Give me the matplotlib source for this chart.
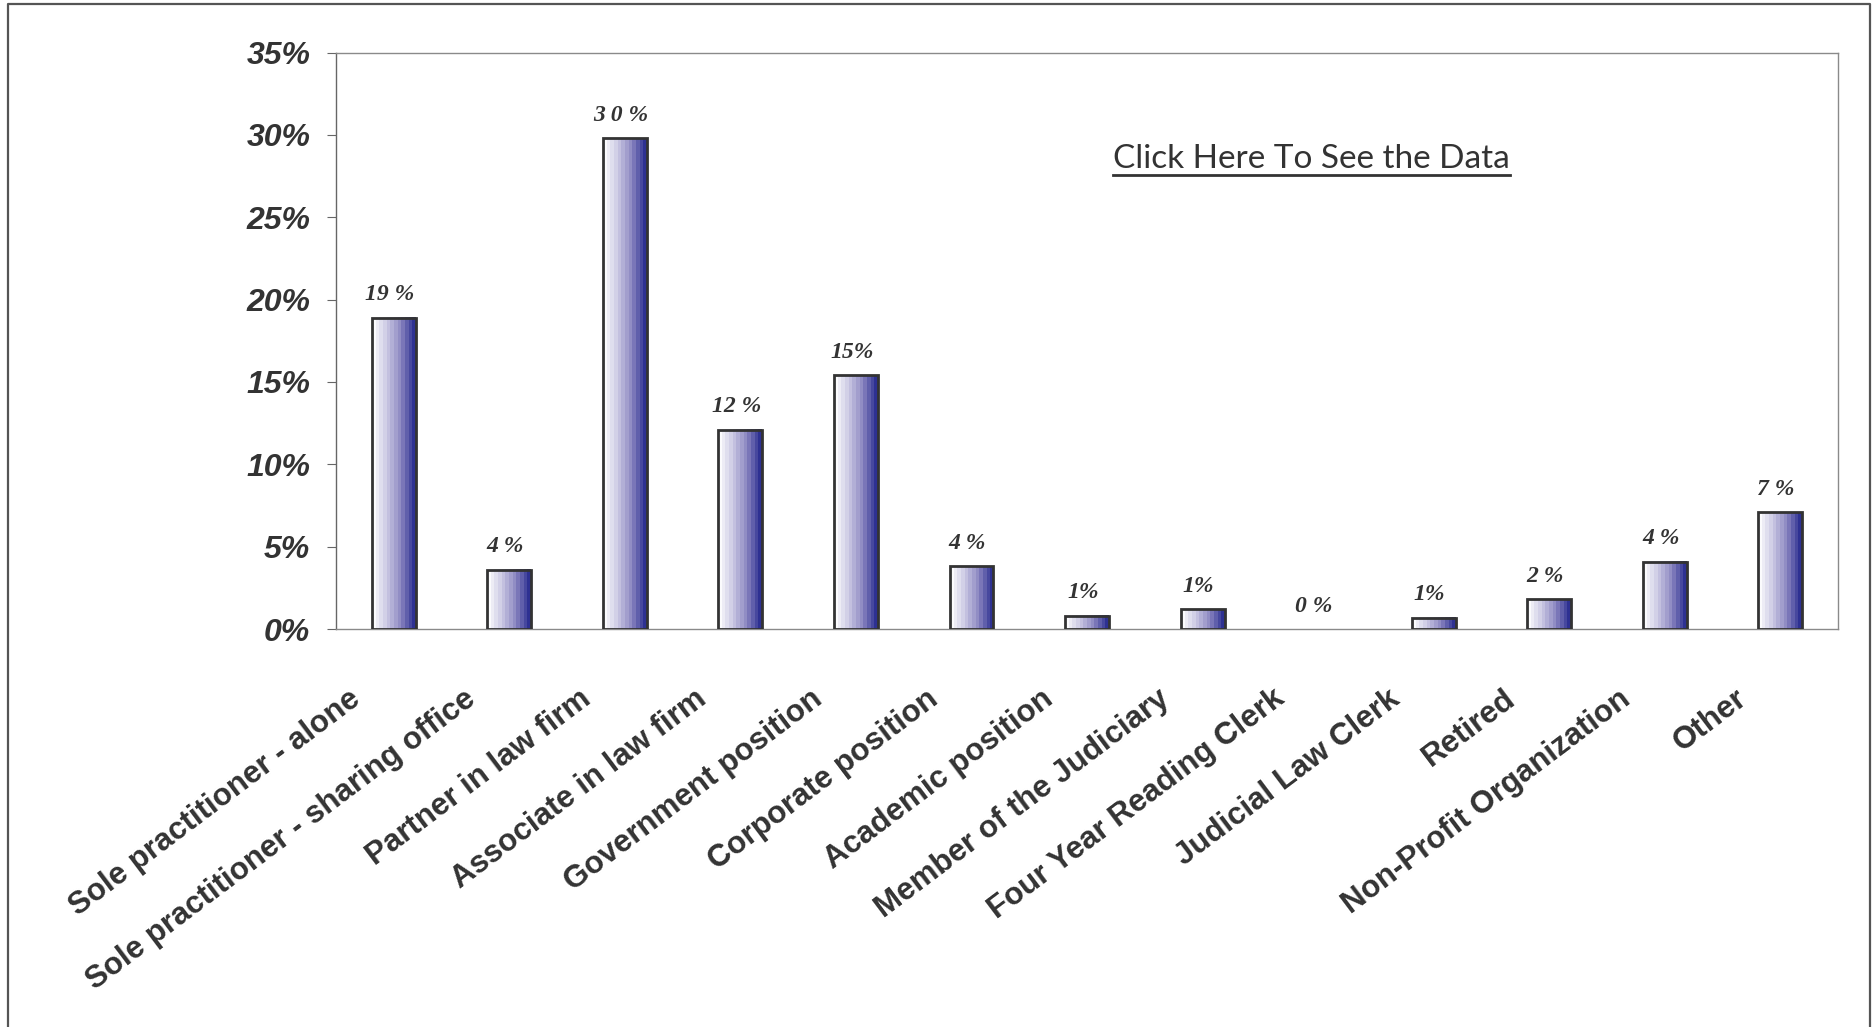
import numpy as np
import matplotlib
matplotlib.use("Agg")
import matplotlib.pyplot as plt
from matplotlib.colors import LinearSegmentedColormap
from matplotlib.transforms import ScaledTranslation
from matplotlib.lines import Line2D

# データ
categories = [
    "Sole practitioner - alone",
    "Sole practitioner - sharing office",
    "Partner in law firm",
    "Associate in law firm",
    "Government position",
    "Corporate position",
    "Academic position",
    "Member of the Judiciary",
    "Four Year Reading Clerk",
    "Judicial Law Clerk",
    "Retired",
    "Non-Profit Organization",
    "Other",
]
values = [18.9, 3.6, 29.8, 12.1, 15.4, 3.8, 0.8, 1.2, 0.0, 0.7, 1.8, 4.1, 7.1]
value_labels = ["19 %", "4 %", "3 0 %", "12 %", "15%", "4 %", "1%", "1%",
                "0 %", "1%", "2 %", "4 %", "7 %"]
yticks = [0, 5, 10, 15, 20, 25, 30, 35]

TXT = "#333333"

fig = plt.figure(figsize=(18.75, 10.27), dpi=100)
ax = fig.add_axes([0.1792, 0.3875, 0.8011, 0.5613])

x = np.arange(len(categories))
bars = ax.bar(x, values, width=0.38, facecolor="none", edgecolor="#333333",
              linewidth=2.0, zorder=3)

# グラデーション（左:白 → 右:濃い青）
cmap = LinearSegmentedColormap.from_list(
    "bar_grad", ["#fbfbfd", "#c9c7e3", "#8c87c1", "#2e3192"])
grad = np.linspace(0, 1, 12).reshape(1, -1)
for b in bars:
    if b.get_height() <= 0:
        b.set_linewidth(0)
        continue
    x0, y0 = b.get_x(), b.get_y()
    ax.imshow(grad, cmap=cmap, aspect="auto", interpolation="nearest",
              extent=(x0, x0 + b.get_width(), y0, y0 + b.get_height()),
              zorder=2)

for xi, v, lbl in zip(x, values, value_labels):
    ax.annotate(lbl, (xi, v), xytext=(-3, 9), textcoords="offset points",
                ha="center", va="bottom", fontsize=17, color=TXT,
                family="Liberation Serif", fontweight="bold", style="italic")

ax.set_xlim(-0.5, len(categories) - 0.5)
ax.set_ylim(0, 35)
ax.set_yticks(yticks)
ax.set_yticklabels([f"{t}%" for t in yticks], fontsize=23, color=TXT,
                   family="Liberation Sans", fontweight="bold", style="italic")
ax.tick_params(axis="y", direction="out", length=6.5, width=0.8,
               color="#666666", pad=12)

ax.set_xticks(x)
ax.set_xticklabels(categories, rotation=37, ha="right", va="top",
                   rotation_mode="anchor", fontsize=22.5, color=TXT,
                   family="Liberation Sans", fontweight="bold")
ax.tick_params(axis="x", length=0, pad=4)
offset = ScaledTranslation(-0.46, -0.49, fig.dpi_scale_trans)
for lab in ax.get_xticklabels():
    lab.set_transform(lab.get_transform() + offset)

for s in ax.spines.values():
    s.set_color("#8a8a8a")
    s.set_linewidth(1.0)
ax.spines["left"].set_color("#666666")

# リンク風テキスト
t = fig.text(0.6995, 0.8365, "Click Here To See the Data", ha="center",
             va="baseline", fontsize=24, color=TXT, family="Lato")
fig.canvas.draw()
bb = t.get_window_extent().transformed(fig.transFigure.inverted())
fig.add_artist(Line2D([bb.x0, bb.x1], [0.8295, 0.8295], color=TXT,
                      linewidth=2, transform=fig.transFigure))

# 外枠
W, H = 1875, 1027
fig.add_artist(Line2D([8 / W, 8 / W, 1870 / W, 1870 / W],
                      [0, 1 - 4 / H, 1 - 4 / H, 0], color="#555555",
                      linewidth=1.6, transform=fig.transFigure))

plt.savefig("out.png", dpi=100)
